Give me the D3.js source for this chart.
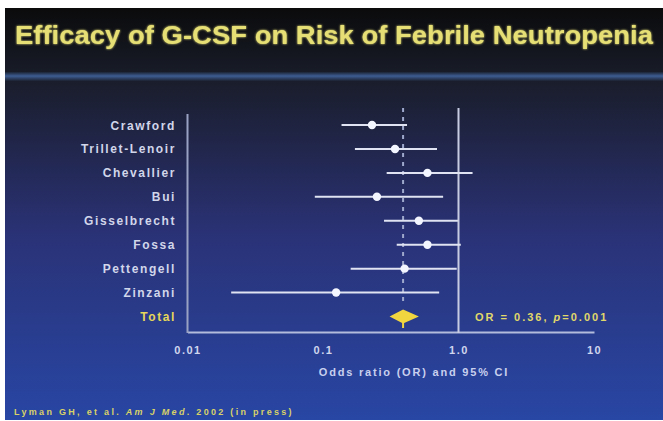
<!DOCTYPE html>
<html>
<head>
<meta charset="utf-8">
<script src="https://cdn.jsdelivr.net/npm/d3@7"></script>
<style>
  body { margin: 0; background: #fff; }
  svg { display: block; font-family: "Liberation Sans", Arial, sans-serif; }
</style>
</head>
<body>
<svg width="663" height="421"></svg>
<script>
// data
var studies = ["Crawford", "Trillet-Lenoir", "Chevallier", "Bui", "Gisselbrecht", "Fossa", "Pettengell", "Zinzani"];
var oddsRatio = [0.23, 0.34, 0.59, 0.25, 0.51, 0.59, 0.40, 0.125];
var ciLow  = [0.137, 0.172, 0.295, 0.087, 0.282, 0.35, 0.16, 0.021];
var ciHigh = [0.417, 0.694, 1.27, 0.77, 0.99, 1.04, 0.97, 0.72];
var totalLabel = "Total";
var totalOR = 0.39, totalLow = 0.31, totalHigh = 0.51;
var tickValues = [0.01, 0.1, 1, 10];
var tickLabels = ["0.01", "0.1", "1.0", "10"];

var svg = d3.select("svg");
var defs = svg.append("defs");

// background: dark header, blue stripe, navy to blue body
var gHead = defs.append("linearGradient").attr("id", "head").attr("x1", 0).attr("y1", 0).attr("x2", 0).attr("y2", 1);
gHead.append("stop").attr("offset", "0%").attr("stop-color", "#0b0b0c");
gHead.append("stop").attr("offset", "100%").attr("stop-color", "#181c28");
var gBody = defs.append("linearGradient").attr("id", "body").attr("x1", 0).attr("y1", 0).attr("x2", 0).attr("y2", 1);
gBody.append("stop").attr("offset", "0%").attr("stop-color", "#1a1d2a");
gBody.append("stop").attr("offset", "45%").attr("stop-color", "#2a3276");
gBody.append("stop").attr("offset", "100%").attr("stop-color", "#2846a4");
var glow = defs.append("filter").attr("id", "glow").attr("x", "-5%").attr("y", "-30%").attr("width", "110%").attr("height", "160%");
glow.append("feGaussianBlur").attr("stdDeviation", 1.2).attr("result", "b");
var fm = glow.append("feMerge");
fm.append("feMergeNode").attr("in", "b");
fm.append("feMergeNode").attr("in", "SourceGraphic");

svg.append("rect").attr("x", 5).attr("y", 8).attr("width", 658).attr("height", 66).attr("fill", "url(#head)");
svg.append("rect").attr("x", 5).attr("y", 80).attr("width", 658).attr("height", 340).attr("fill", "url(#body)");
var gStripe = defs.append("linearGradient").attr("id", "stripe").attr("x1", 0).attr("y1", 0).attr("x2", 0).attr("y2", 1);
gStripe.append("stop").attr("offset", "0%").attr("stop-color", "#1c2334");
gStripe.append("stop").attr("offset", "45%").attr("stop-color", "#3d5d92");
gStripe.append("stop").attr("offset", "100%").attr("stop-color", "#1c2232");
svg.append("rect").attr("x", 5).attr("y", 72).attr("width", 658).attr("height", 9).attr("fill", "url(#stripe)");

// title
svg.append("text")
  .attr("x", 15).attr("y", 44)
  .attr("font-size", 25).attr("font-weight", "bold")
  .attr("fill", "#e6df74")
  .attr("textLength", 638).attr("lengthAdjust", "spacingAndGlyphs")
  .attr("filter", "url(#glow)")
  .text("Efficacy of G-CSF on Risk of Febrile Neutropenia");

// scales
var x = d3.scaleLog().domain([0.01, 10]).range([187.5, 594]);
var y = d3.scalePoint().domain(studies.concat([totalLabel])).range([125, 316.5]);

var lineCol = "#b4bcdc";

// x axis
var xAxis = d3.axisBottom(x).tickValues(tickValues).tickSize(0).tickPadding(14)
  .tickFormat(function(d, i) { return tickLabels[i]; });
var gx = svg.append("g").attr("transform", "translate(0,332)").call(xAxis);
gx.select(".domain").attr("stroke", lineCol).attr("stroke-width", 2);
gx.selectAll("text").attr("fill", "#d0d6ee").attr("font-size", 11).attr("font-weight", "bold")
  .attr("letter-spacing", 1.5)
  .attr("font-family", "Liberation Sans, Arial, sans-serif");

// left axis line
svg.append("line").attr("x1", 187.5).attr("x2", 187.5).attr("y1", 114).attr("y2", 333)
  .attr("stroke", "#9aa2c4").attr("stroke-width", 2);

// line of no effect
svg.append("line").attr("x1", x(1)).attr("x2", x(1)).attr("y1", 108).attr("y2", 333)
  .attr("stroke", "#c8cce2").attr("stroke-width", 2);

// pooled dashed line
svg.append("line").attr("x1", x(totalOR)).attr("x2", x(totalOR)).attr("y1", 108).attr("y2", 306)
  .attr("stroke", "#9ea8cc").attr("stroke-width", 2).attr("stroke-dasharray", "4,5");

// study labels
svg.selectAll("text.study")
  .data(studies.concat([totalLabel]))
  .enter().append("text")
  .attr("class", "study")
  .attr("x", 176).attr("y", function(d) { return y(d) + 4.5; })
  .attr("text-anchor", "end")
  .attr("font-size", 12).attr("font-weight", "bold").attr("letter-spacing", 1.6)
  .attr("fill", function(d) { return d === totalLabel ? "#e6d65a" : "#d2d6ea"; })
  .text(function(d) { return d; });

// CI lines
svg.selectAll("line.ci")
  .data(studies)
  .enter().append("line")
  .attr("class", "ci")
  .attr("x1", function(d, i) { return x(ciLow[i]); })
  .attr("x2", function(d, i) { return x(ciHigh[i]); })
  .attr("y1", function(d) { return y(d); })
  .attr("y2", function(d) { return y(d); })
  .attr("stroke", "#dfe3f2").attr("stroke-width", 2);

// point estimates
svg.selectAll("circle.or")
  .data(studies)
  .enter().append("circle")
  .attr("class", "or")
  .attr("cx", function(d, i) { return x(oddsRatio[i]); })
  .attr("cy", function(d) { return y(d); })
  .attr("r", 4.2)
  .attr("fill", "#f4f6ff");

// pooled diamond
var ty = y(totalLabel);
svg.append("line").attr("x1", x(totalOR)).attr("x2", x(totalOR)).attr("y1", ty).attr("y2", 328)
  .attr("stroke", "#f2d640").attr("stroke-width", 2);
svg.append("path")
  .attr("d", "M" + x(totalLow) + "," + ty +
             "L" + x(totalOR) + "," + (ty - 7) +
             "L" + x(totalHigh) + "," + ty +
             "L" + x(totalOR) + "," + (ty + 7) + "Z")
  .attr("fill", "#f2d640");

// pooled text
var orText = svg.append("text").attr("x", 475).attr("y", 321)
  .attr("font-size", 11).attr("font-weight", "bold").attr("letter-spacing", 2).attr("fill", "#e0d86a");
orText.append("tspan").text("OR = 0.36, ");
orText.append("tspan").attr("font-style", "italic").text("p");
orText.append("tspan").text("=0.001");

// axis title
svg.append("text").attr("x", 414).attr("y", 376).attr("text-anchor", "middle")
  .attr("font-size", 11).attr("font-weight", "bold").attr("letter-spacing", 1.8).attr("fill", "#c8d0ee")
  .text("Odds ratio (OR) and 95% CI");

// footnote
var foot = svg.append("text").attr("x", 14).attr("y", 415)
  .attr("font-size", 9).attr("font-weight", "bold").attr("letter-spacing", 2.3).attr("fill", "#d8d268");
foot.append("tspan").text("Lyman GH, et al. ");
foot.append("tspan").attr("font-style", "italic").text("Am J Med");
foot.append("tspan").text(". 2002 (in press)");
</script>
</body>
</html>
